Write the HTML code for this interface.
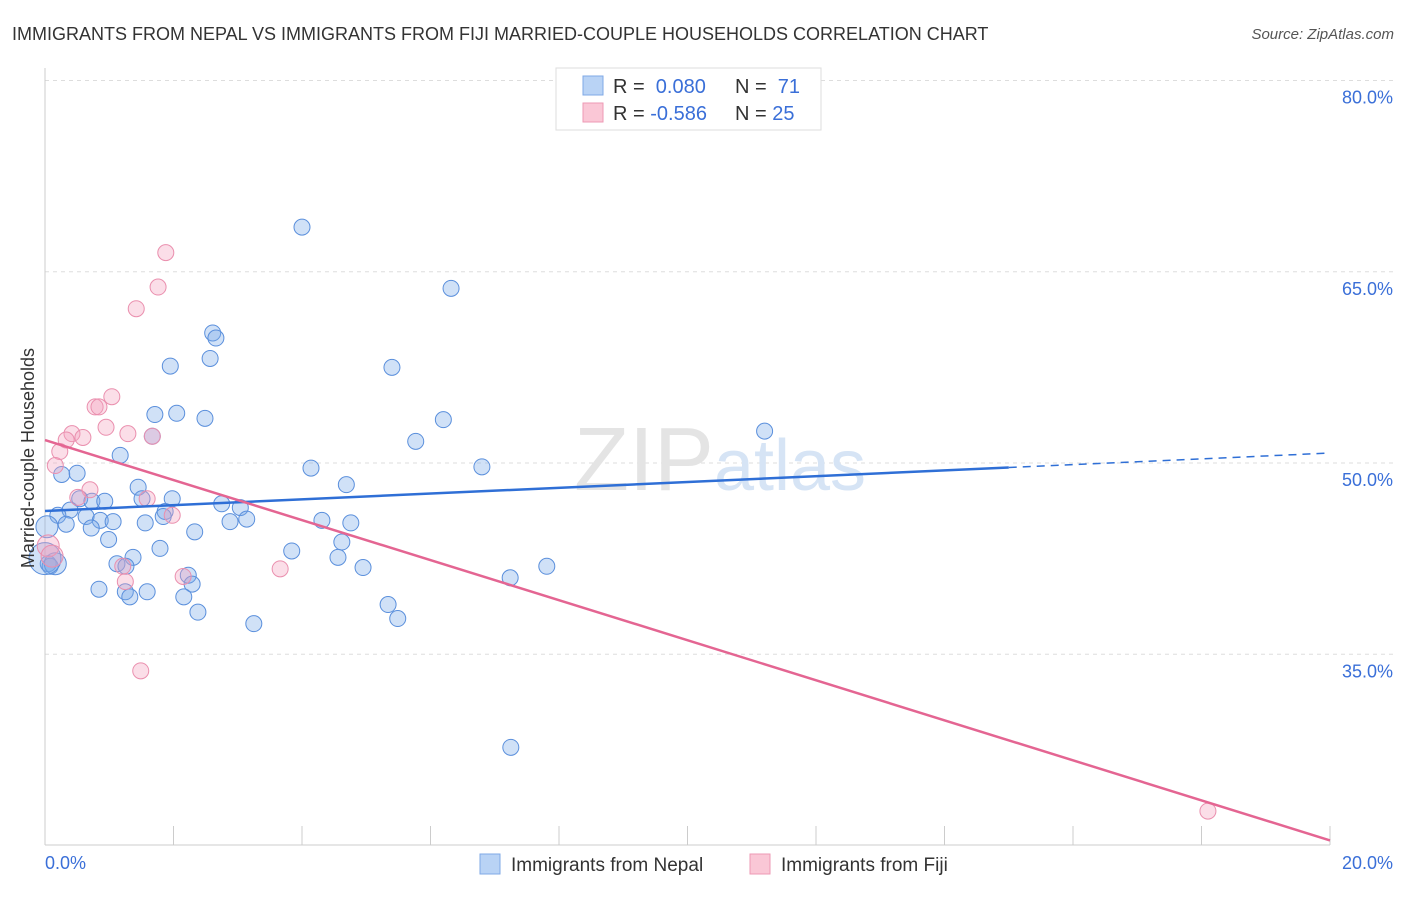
<!DOCTYPE html>
<html><head><meta charset="utf-8"><style>
body{margin:0;background:#fff;font-family:"Liberation Sans",sans-serif}
svg text{font-family:"Liberation Sans",sans-serif}
</style></head><body>
<svg width="1406" height="892" xmlns="http://www.w3.org/2000/svg">
<text x="12" y="40" font-size="18" fill="#333">IMMIGRANTS FROM NEPAL VS IMMIGRANTS FROM FIJI MARRIED-COUPLE HOUSEHOLDS CORRELATION CHART</text>
<text x="1394" y="39" font-size="15" fill="#555" text-anchor="end" font-style="italic">Source: ZipAtlas.com</text>
<g id="grid"></g>
<text x="720" y="490" font-size="90" fill="#e4e4e4" text-anchor="middle" font-family="Liberation Serif">ZIP<tspan fill="#d6e4f5" font-family="Liberation Sans" font-size="72">atlas</tspan></text>
<g id="pts"></g>
<g id="lines"></g>
<text x="34" y="458" font-size="18" fill="#333" text-anchor="middle" transform="rotate(-90 34 458)">Married-couple Households</text>
<text x="45" y="869" font-size="18" fill="#3a6fd8">0.0%</text>
<text x="1393" y="869" font-size="18" fill="#3a6fd8" text-anchor="end">20.0%</text>
<g>
<rect x="556" y="68" width="265" height="62" fill="#fff" stroke="#ddd"/>
<rect x="583" y="76" width="20" height="19" fill="#b9d3f5" stroke="#7fa8e6"/>
<rect x="583" y="103" width="20" height="19" fill="#fac7d6" stroke="#ee9ab4"/>
<text x="613" y="93" font-size="20" fill="#333">R = <tspan fill="#3a6fd8">&#160;0.080</tspan><tspan x="735">N = </tspan><tspan fill="#3a6fd8">&#160;71</tspan></text>
<text x="613" y="120" font-size="20" fill="#333">R = <tspan fill="#3a6fd8">-0.586</tspan><tspan x="735">N = </tspan><tspan fill="#3a6fd8">25</tspan></text>
</g>
<g>
<rect x="480" y="854" width="20" height="20" fill="#b9d3f5" stroke="#7fa8e6"/>
<text x="511" y="871" font-size="19" fill="#333">Immigrants from Nepal</text>
<rect x="750" y="854" width="20" height="20" fill="#fac7d6" stroke="#ee9ab4"/>
<text x="781" y="871" font-size="19" fill="#333">Immigrants from Fiji</text>
</g>
</svg>
<script>
const yTicks=[35,50,65,80];
const nepalX=[4.0,6.32,2.61,2.66,2.57,1.95,5.40,1.71,2.05,2.49,6.2,1.67,5.77,11.2,1.17,4.14,6.80,0.26,0.50,4.69,1.45,1.51,1.98,0.54,0.73,0.93,2.75,3.04,0.39,1.87,1.84,0.2,0.64,0.86,1.06,1.56,2.88,3.14,4.31,4.76,0.33,0.72,2.33,0.99,1.79,4.62,3.84,4.56,1.37,1.12,1.26,4.95,7.81,0.05,0.08,7.24,2.23,2.29,0.84,1.25,1.59,2.16,1.32,2.38,5.34,5.49,3.25,7.25,0.03,0.16,0.0];
const nepalY=[68.5,63.7,60.2,59.8,58.2,57.6,57.5,53.8,53.9,53.5,53.4,52.1,51.7,52.5,50.6,49.6,49.7,49.1,49.2,48.3,48.1,47.2,47.2,47.2,47.0,47.0,46.8,46.5,46.3,46.2,45.8,45.9,45.8,45.5,45.4,45.3,45.4,45.6,45.5,45.3,45.2,44.9,44.6,44.0,43.3,43.8,43.1,42.6,42.6,42.1,41.9,41.8,41.9,42.1,41.9,41.0,41.2,40.5,40.1,39.9,39.9,39.5,39.5,38.3,38.9,37.8,37.4,27.7,45.0,42.1,42.5];
const fijiX=[1.88,1.76,1.42,1.04,0.78,0.84,0.95,1.29,1.67,0.42,0.33,0.59,0.23,0.16,0.70,0.51,1.59,1.98,0.05,0.11,1.21,1.25,2.15,3.66,1.49,18.1];
const fijiY=[66.5,63.8,62.1,55.2,54.4,54.4,52.8,52.3,52.1,52.3,51.8,52.0,50.9,49.8,47.9,47.3,47.2,45.9,43.5,42.7,41.9,40.7,41.1,41.7,33.7,22.7];
const nepalTrend=[46.24,50.78];
const fijiTrend=[51.8,20.4];
const xs=v=>45+v*64.25, ys=v=>463-(v-50)*12.75;
const NS="http://www.w3.org/2000/svg";
function mk(t,a,p){const e=document.createElementNS(NS,t);for(const k in a)e.setAttribute(k,a[k]);p.appendChild(e);return e;}
const grid=document.getElementById('grid');
yTicks.forEach(t=>{
const l=mk('line',{x1:45,x2:1394,y1:ys(t),y2:ys(t),stroke:'#ddd','stroke-dasharray':'4,4'},grid);


const tx=mk('text',{x:1393,y:ys(t)+23,'font-size':18,fill:'#3a6fd8','text-anchor':'end'},grid);
tx.textContent=t.toFixed(1)+'%';


});
const ax=mk('line',{x1:45,x2:45,y1:68,y2:845,stroke:'#ccc'},grid);


const bx=mk('line',{x1:45,x2:1330,y1:845,y2:845,stroke:'#ccc'},grid);


for(let i=0;i<=10;i++){const tk=mk('line',{x1:xs(i*2),x2:xs(i*2),y1:826,y2:845,stroke:'#ccc'},grid);

}
const pts=document.getElementById('pts');
nepalX.forEach((x,i)=>{const r=(i>=68)?(i==70?16:11):8;
const c=mk('circle',{cx:xs(x),cy:ys(nepalY[i]),r:r,fill:'rgba(120,168,232,0.35)',stroke:'#5a8fdc','stroke-width':1},pts);

});
fijiX.forEach((x,i)=>{const r=(i==18||i==19)?11:8;
const c=mk('circle',{cx:xs(x),cy:ys(fijiY[i]),r:r,fill:'rgba(244,160,188,0.35)',stroke:'#ea8fae','stroke-width':1},pts);

});
const lines=document.getElementById('lines');
const yb=x=>nepalTrend[0]+(nepalTrend[1]-nepalTrend[0])*x/20;
const l1=mk('line',{x1:xs(0),y1:ys(yb(0)),x2:xs(15),y2:ys(yb(15)),stroke:'#2f6fd6','stroke-width':2.5},lines);


const l2=mk('line',{x1:xs(15),y1:ys(yb(15)),x2:xs(20),y2:ys(yb(20)),stroke:'#2f6fd6','stroke-width':1.5,'stroke-dasharray':'8,6'},lines);


const l3=mk('line',{x1:xs(0),y1:ys(fijiTrend[0]),x2:xs(20),y2:ys(fijiTrend[1]),stroke:'#e46592','stroke-width':2.5},lines);


</script>
</body></html>
